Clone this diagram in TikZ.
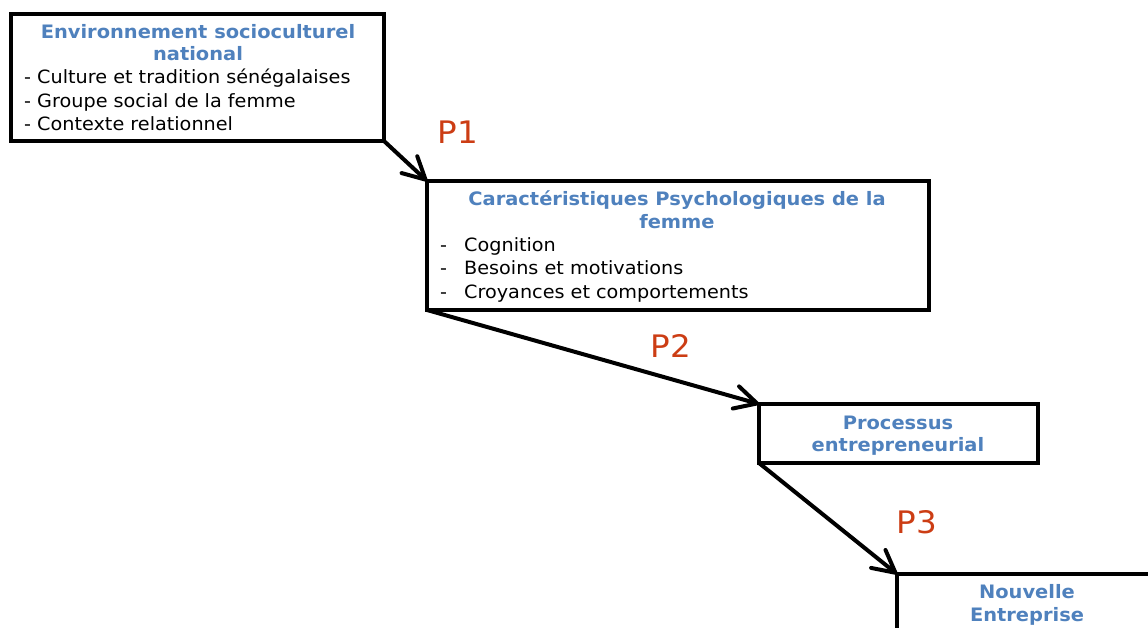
\documentclass[tikz,border=0pt]{standalone}
\usepackage{fontspec}
\setmainfont{DejaVu Sans}[FakeStretch=1.05]
\usetikzlibrary{arrows.meta,positioning}
\definecolor{ttlblue}{HTML}{4F81BD}
\definecolor{propred}{HTML}{CC3D14}

\begin{document}
\begin{tikzpicture}[
    x=1pt, y=-1pt,
    box/.style={draw, line width=4pt, anchor=north west, inner sep=0pt, outer sep=0pt},
    ttl/.style={font=\fontsize{18.5}{22.7}\selectfont\bfseries, text=ttlblue, align=center, anchor=north, inner sep=0pt},
    itm/.style={font=\fontsize{18.3}{23.5}\selectfont, align=left, anchor=north west, inner sep=0pt},
    prop/.style={font=\fontsize{31}{36}\selectfont, text=propred},
    arr/.style={-{Straight Barb[length=22pt,width=23pt,round]}, line width=4pt},
  ]
  \clip (0,0) rectangle (1148,628);

  \node[box, minimum width=373pt, minimum height=127pt] (env) at (11,14) {};
  \node[ttl] (envt) at (198,24) {Environnement socioculturel\\national};
  \node[itm] (envl) at (24,69) {- Culture et tradition sénégalaises\\- Groupe social de la femme\\- Contexte relationnel};

  \node[box, minimum width=502pt, minimum height=129pt] (psy) at (427,181) {};
  \node[ttl] (psyt) at (677,191) {Caractéristiques Psychologiques de la\\femme};
  \node[itm] (psyl) at (440,237) {\makebox[24pt][l]{-}Cognition\\\makebox[24pt][l]{-}Besoins et motivations\\\makebox[24pt][l]{-}Croyances et comportements};

  \node[box, minimum width=279pt, minimum height=59pt] (proc) at (759,404) {};
  \node[ttl] (proct) at (898,415.5) {Processus\\entrepreneurial};

  \node[box, minimum width=400pt, minimum height=120pt] (nouv) at (897,574) {};
  \node[ttl] (nouvt) at (1027,584.5) {Nouvelle\\Entreprise};

  \node[prop] (p1) at (458,132) {P1};
  \node[prop] (p2) at (671,346) {P2};
  \node[prop] (p3) at (917,522) {P3};

  \draw[arr] (env.south east) -- (psy.north west);
  \draw[arr] (psy.south west) -- (proc.north west);
  \draw[arr] (proc.south west) -- (nouv.north west);
\end{tikzpicture}
\end{document}
